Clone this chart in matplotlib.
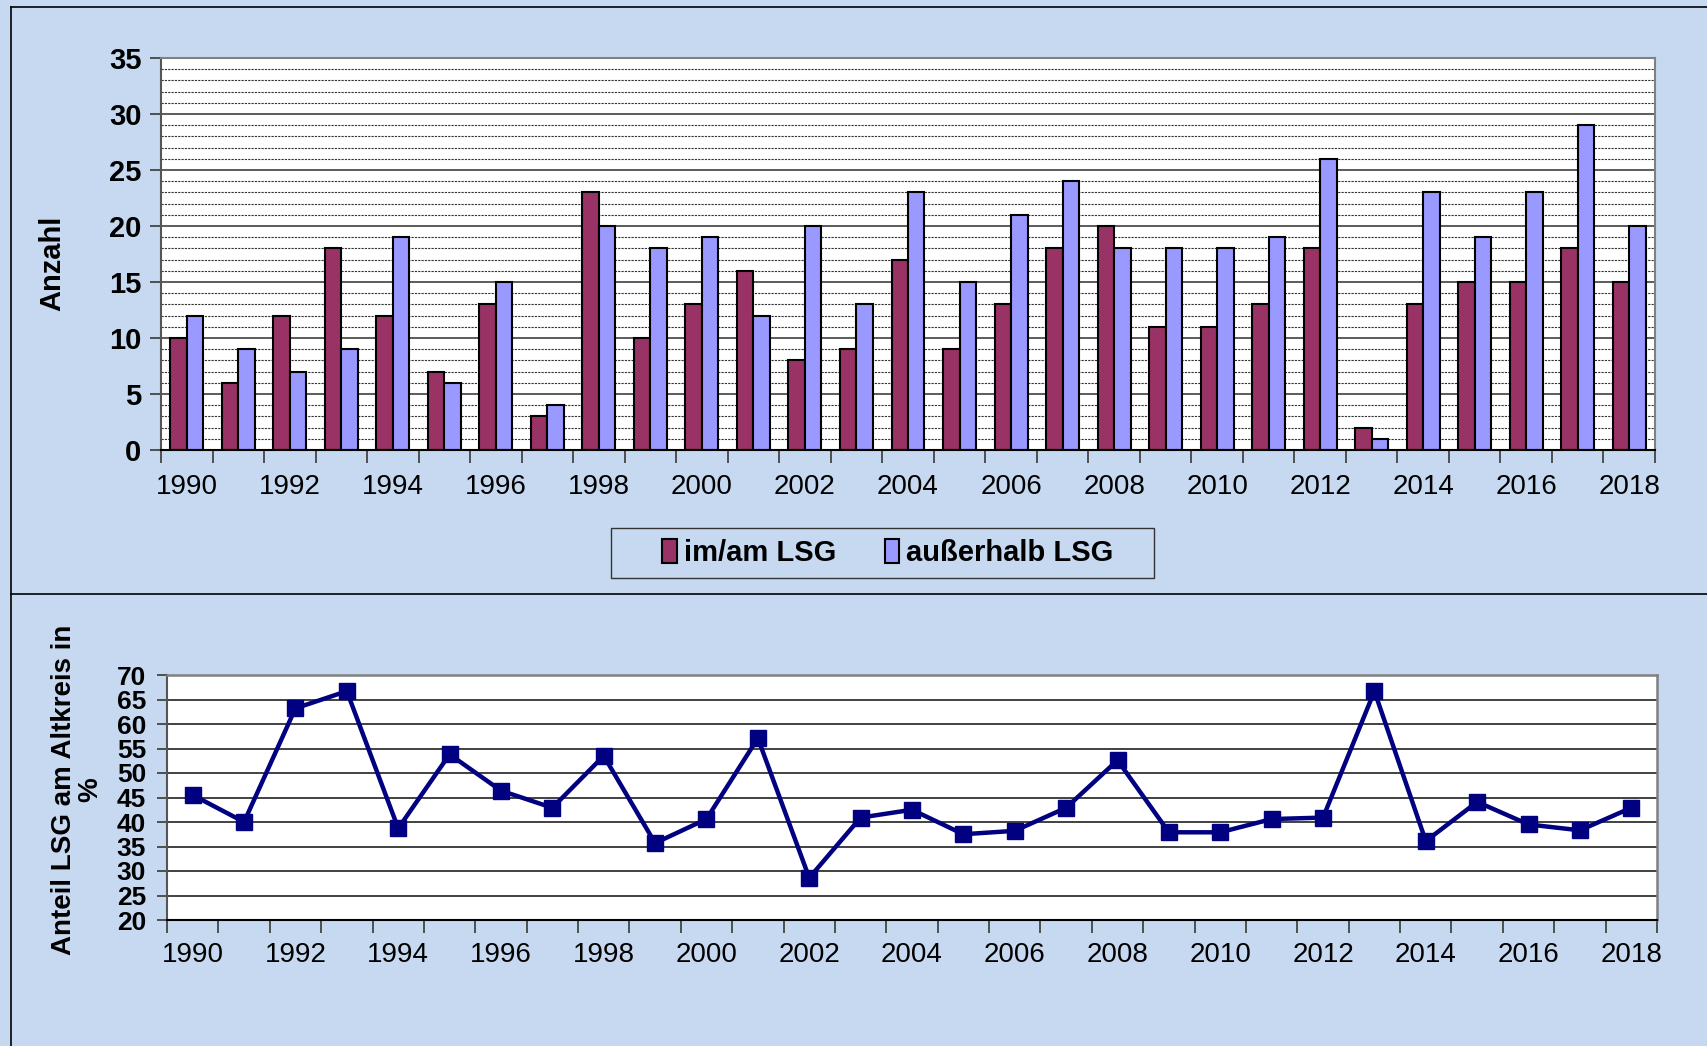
import matplotlib
matplotlib.use("Agg")
import matplotlib.pyplot as plt
from matplotlib.lines import Line2D
from matplotlib.patches import Patch, Rectangle
import numpy as np

years = list(range(1990, 2019))
im_am_lsg = [10, 6, 12, 18, 12, 7, 13, 3, 23, 10, 13, 16, 8, 9, 17, 9, 13, 18, 20, 11, 11, 13, 18, 2, 13, 15, 15, 18, 15]
ausserhalb_lsg = [12, 9, 7, 9, 19, 6, 15, 4, 20, 18, 19, 12, 20, 13, 23, 15, 21, 24, 18, 18, 18, 19, 26, 1, 23, 19, 23, 29, 20]
anteil_pct = [45.5, 40.0, 63.2, 66.7, 38.7, 53.8, 46.4, 42.9, 53.5, 35.7, 40.6, 57.1, 28.6, 40.9, 42.5,
              37.5, 38.2, 42.9, 52.6, 37.9, 37.9, 40.6, 40.9, 66.7, 36.1, 44.1, 39.5, 38.3, 42.9]
series_labels = ["im/am LSG", "außerhalb LSG"]
bar_ticks = list(range(0, 36, 5))
line_ticks = list(range(20, 71, 5))

BG = "#C6D9F0"
C1 = "#993366"
C2 = "#9999FF"
NAVY = "#000080"
FONT = "Liberation Sans"
plt.rcParams["font.family"] = [FONT, "DejaVu Sans"]

W, H = 1707, 1046
fig = plt.figure(figsize=(W / 100, H / 100), dpi=100, facecolor=BG)

def fx(px):
    return px / W

def fy(py):
    return 1 - py / H

# panel borders
fig.add_artist(Line2D([fx(11), 1], [fy(7), fy(7)], color="black", lw=1.2))
fig.add_artist(Line2D([fx(11), fx(11)], [fy(7), 0], color="black", lw=1.2))
fig.add_artist(Line2D([fx(11), 1], [fy(594), fy(594)], color="black", lw=1.2))

n = len(years)
x = np.arange(n)

# ---------- top bar chart ----------
ax1 = fig.add_axes([fx(161), fy(450), fx(1655) - fx(161), fy(58) - fy(450)])
ax1.set_facecolor("white")
bw = 0.32
ax1.bar(x - bw / 2, im_am_lsg, width=bw, color=C1, edgecolor="black", linewidth=1.5, zorder=3, label=series_labels[0])
ax1.bar(x + bw / 2, ausserhalb_lsg, width=bw, color=C2, edgecolor="black", linewidth=1.5, zorder=3, label=series_labels[1])
ax1.set_xlim(-0.5, n - 0.5)
ax1.set_ylim(0, 35)
ax1.set_yticks(bar_ticks)
ax1.set_yticks(np.arange(0, 36, 1), minor=True)
ax1.grid(axis="y", which="major", color="#404040", lw=1.2, zorder=0)
ax1.grid(axis="y", which="minor", color="#333333", lw=0.8, ls=(0, (2, 1)), zorder=0)
ax1.set_xticks(x[::2])
ax1.set_xticklabels([str(y) for y in years[::2]])
ax1.set_xticks(np.arange(-0.5, n, 1), minor=True)
ax1.tick_params(axis="x", which="major", length=0, pad=17, labelsize=20)
ax1.tick_params(axis="x", which="minor", length=9, width=1.3, color="#444444", direction="out")
ax1.tick_params(axis="y", which="major", length=8, width=1.3, color="#444444", labelsize=21, pad=6)
ax1.tick_params(axis="y", which="minor", length=0)
for lab in ax1.get_yticklabels():
    lab.set_fontweight("bold")
for s in ["top", "right"]:
    ax1.spines[s].set_color("#808080")
    ax1.spines[s].set_linewidth(1.5)
ax1.spines["left"].set_color("#555555")
ax1.spines["left"].set_linewidth(1.5)
ax1.spines["bottom"].set_color("black")
ax1.spines["bottom"].set_linewidth(1.5)
ax1.spines["bottom"].set_zorder(4)
fig.text(fx(52), fy(263), "Anzahl", rotation=90, ha="center", va="center", fontsize=21, fontweight="bold")

# legend frame drawn separately
fig.add_artist(Rectangle((fx(611), fy(578)), fx(1154) - fx(611), fy(528) - fy(578),
                         transform=fig.transFigure, facecolor=BG, edgecolor="#333333", lw=1.0))
handles = [Patch(facecolor=C1, edgecolor="black", linewidth=1.5), Patch(facecolor=C2, edgecolor="black", linewidth=1.5)]
leg = fig.legend(handles, series_labels, loc="center", bbox_to_anchor=(fx(888), fy(553)), ncol=2,
                 prop={"family": FONT, "weight": "bold", "size": 21}, frameon=False,
                 handlelength=0.5, handleheight=0.85, handletextpad=0.25, columnspacing=1.65,
                 borderpad=0.3, borderaxespad=0)

# ---------- bottom line chart ----------
ax2 = fig.add_axes([fx(167), fy(920), fx(1657) - fx(167), fy(675) - fy(920)])
ax2.set_facecolor("white")
ax2.plot(x, anteil_pct, color=NAVY, lw=3.2, marker="s", markersize=11, markerfacecolor=NAVY,
         markeredgecolor=NAVY, zorder=3, clip_on=False)
ax2.set_xlim(-0.5, n - 0.5)
ax2.set_ylim(20, 70)
ax2.set_yticks(line_ticks)
ax2.grid(axis="y", color="#333333", lw=1.3, zorder=0)
ax2.set_xticks(x[::2])
ax2.set_xticklabels([str(y) for y in years[::2]])
ax2.set_xticks(np.arange(-0.5, n, 1), minor=True)
ax2.tick_params(axis="x", which="major", length=0, pad=16, labelsize=20)
ax2.tick_params(axis="x", which="minor", length=9, width=1.3, color="#444444", direction="out")
ax2.tick_params(axis="y", which="major", length=7, width=1.3, color="#444444", labelsize=19, pad=8)
for lab in ax2.get_yticklabels():
    lab.set_fontweight("bold")
for s in ["top", "right"]:
    ax2.spines[s].set_color("#808080")
    ax2.spines[s].set_linewidth(1.8)
ax2.spines["left"].set_color("#555555")
ax2.spines["left"].set_linewidth(1.5)
ax2.spines["bottom"].set_color("black")
ax2.spines["bottom"].set_linewidth(1.5)
fig.text(fx(77), fy(790), "Anteil LSG am Altkreis in\n%", rotation=90, ha="center", va="center",
         fontsize=20, fontweight="bold", multialignment="center", linespacing=1.0)

fig.savefig("out.png", dpi=100, facecolor=BG)
